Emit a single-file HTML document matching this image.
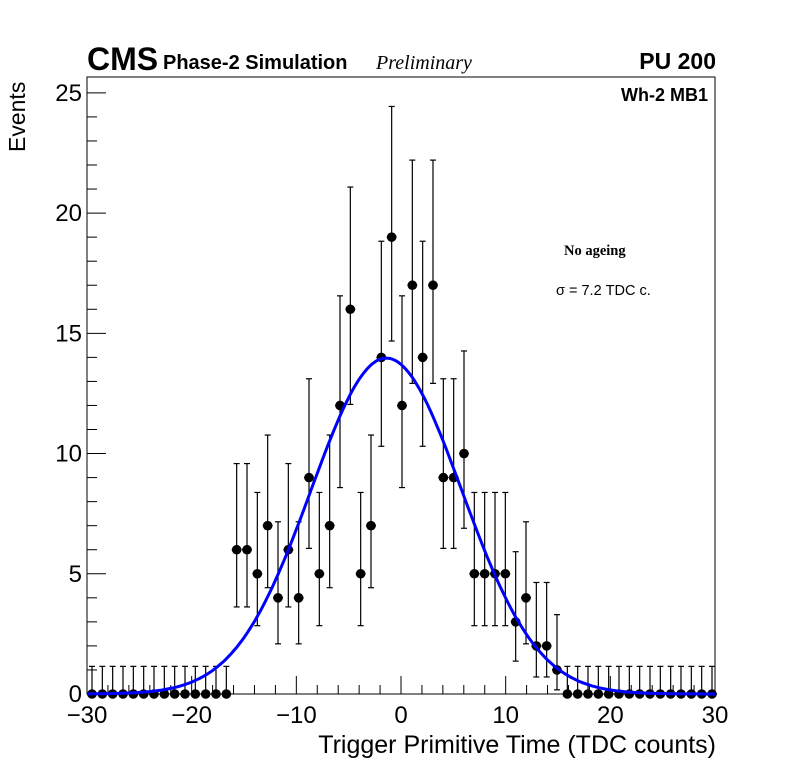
<!DOCTYPE html>
<html><head><meta charset="utf-8"><style>
body{margin:0;background:#fff;}
svg{display:block;font-family:"Liberation Sans",sans-serif;}
</style></head><body>
<svg id="c" width="796" height="772">
<rect x="0" y="0" width="796" height="772" fill="#fff"/>
<g id="axes"></g>
<g id="marks"></g>
<text x="87" y="70" font-size="32" font-weight="bold">CMS</text>
<text x="163" y="69" font-size="20" font-weight="bold">Phase-2 Simulation</text>
<text x="376" y="69" font-size="20" font-style="italic" font-family="Liberation Serif,serif">Preliminary</text>
<text x="716" y="69" font-size="23" font-weight="bold" text-anchor="end">PU 200</text>
<text x="708" y="101" font-size="18" font-weight="bold" text-anchor="end">Wh-2 MB1</text>
<text x="564" y="255" font-size="14.5" font-weight="bold" font-family="Liberation Serif,serif">No ageing</text>
<text x="556" y="295" font-size="14.5">σ = 7.2 TDC c.</text>
<text x="716" y="753" font-size="25" text-anchor="end">Trigger Primitive Time (TDC counts)</text>
<text transform="translate(25,152) rotate(-90)" font-size="23">Events</text>
</svg>
<script>
const binCenters=[-30,-29,-28,-27,-26,-25,-24,-23,-22,-21,-20,-19,-18,-17,-16,-15,-14,-13,-12,-11,-10,-9,-8,-7,-6,-5,-4,-3,-2,-1,0,1,2,3,4,5,6,7,8,9,10,11,12,13,14,15,16,17,18,19,20,21,22,23,24,25,26,27,28,29,30];
const counts=[0,0,0,0,0,0,0,0,0,0,0,0,0,0,6,6,5,7,4,6,4,9,5,7,12,16,5,7,14,19,12,17,14,17,9,9,10,5,5,5,5,3,4,2,2,1,0,0,0,0,0,0,0,0,0,0,0,0,0,0,0];
const xTicks=[-30,-20,-10,0,10,20,30];
const yTicks=[0,5,10,15,20,25];
const fitMean=-1.4, fitSigma=7.2, fitAmp=13.97;
const errLowTable={0:0,1:0.827,2:1.292,3:1.633,4:1.914,5:2.159,6:2.379,7:2.58,9:2.943,10:3.108,12:3.415,14:3.698,16:3.957,17:4.082,19:4.321};
const errUpTable={0:1.15,1:2.3,2:2.638,3:2.918,4:3.162,5:3.382,6:3.583,7:3.77,9:4.11,10:4.266,12:4.559,14:4.83,16:5.083,17:5.204,19:5.435};

const L=87,R=715,T=77,B=694;
const xS=v=>L+(v+30)/60*(R-L);
const xP=v=>92+(v+30)/60*620;
const yS=v=>B-v/25.66*(B-T);
const NS="http://www.w3.org/2000/svg";
function mk(tag,attrs,parent){const e=document.createElementNS(NS,tag);for(const k in attrs)e.setAttribute(k,attrs[k]);parent.appendChild(e);return e;}
const ax=document.getElementById('axes'),mg=document.getElementById('marks');
const frame=mk('rect',{x:L,y:T,width:R-L,height:B-T,fill:'none',stroke:'#000','stroke-width':1},ax);


for(let v=-30;v<=30;v+=2){const maj=v%10===0;const t=mk('line',{x1:xS(v),x2:xS(v),y1:B,y2:B-(maj?18:9),stroke:'#000'},ax);

}
for(let v=0;v<=25;v++){const maj=v%5===0;const t=mk('line',{x1:L,x2:L+(maj?19:10),y1:yS(v),y2:yS(v),stroke:'#000'},ax);

}
xTicks.forEach(v=>{const t=mk('text',{x:xS(v),y:723,'font-size':24,'text-anchor':'middle'},ax);t.textContent=(v<0?'\u2212'+(-v):v);

});
yTicks.forEach(v=>{const t=mk('text',{x:L-5,y:yS(v)+8,'font-size':24,'text-anchor':'end'},ax);t.textContent=v;

});
binCenters.forEach((c,i)=>{const n=counts[i];const x=xP(c),y=yS(n);
const up=errUpTable[n]!==undefined?errUpTable[n]:Math.sqrt(n);const lo=errLowTable[n]!==undefined?errLowTable[n]:Math.sqrt(n);
const g=mk('g',{},mg);


mk('line',{x1:x,x2:x,y1:yS(n+up),y2:yS(n-lo),stroke:'#000','stroke-width':1.2},g);
mk('line',{x1:x-3,x2:x+3,y1:yS(n+up),y2:yS(n+up),stroke:'#000','stroke-width':1.2},g);
if(lo>0)mk('line',{x1:x-3,x2:x+3,y1:yS(n-lo),y2:yS(n-lo),stroke:'#000','stroke-width':1.2},g);
mk('line',{x1:x-5,x2:x+5,y1:y,y2:y,stroke:'#000','stroke-width':1.2},g);
mk('circle',{cx:x,cy:y,r:4.8,fill:'#000'},g);});
let d='';for(let v=-30;v<=30.001;v+=0.25){const f=fitAmp*Math.exp(-0.5*Math.pow((v-fitMean)/fitSigma,2));d+=(d?'L':'M')+xS(v).toFixed(1)+','+yS(f).toFixed(1);}
const fit=mk('path',{d:d,fill:'none',stroke:'#0000ff','stroke-width':3},mg);


</script>
</body></html>
